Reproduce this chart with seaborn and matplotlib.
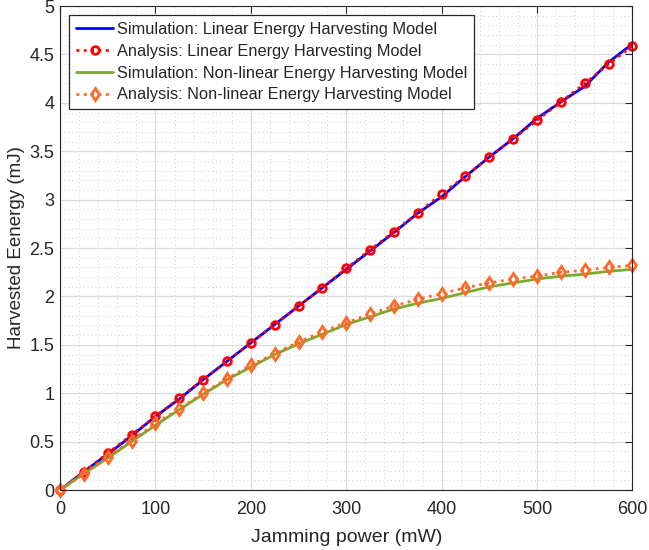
import numpy as np
import pandas as pd
import seaborn as sns
import matplotlib.pyplot as plt
from matplotlib.ticker import MultipleLocator

# jamming power (mW)
power = [0, 25, 50, 75, 100, 125, 150, 175, 200, 225, 250, 275, 300,
         325, 350, 375, 400, 425, 450, 475, 500, 525, 550, 575, 600]

# harvested energy (mJ)
sim_linear = [0, 0.19, 0.37, 0.56, 0.76, 0.94, 1.14, 1.33, 1.52, 1.71, 1.90, 2.09, 2.28,
              2.47, 2.66, 2.86, 3.03, 3.24, 3.44, 3.63, 3.84, 4.01, 4.17, 4.42, 4.61]
ana_linear = [0, 0.19, 0.38, 0.57, 0.76, 0.95, 1.14, 1.33, 1.52, 1.71, 1.90, 2.09, 2.29,
              2.48, 2.67, 2.86, 3.06, 3.24, 3.44, 3.63, 3.82, 4.01, 4.20, 4.40, 4.59]
sim_nonlinear = [0, 0.17, 0.33, 0.50, 0.67, 0.83, 0.99, 1.14, 1.27, 1.40, 1.51, 1.61, 1.71,
                 1.79, 1.87, 1.93, 1.98, 2.04, 2.10, 2.14, 2.18, 2.21, 2.23, 2.26, 2.28]
ana_nonlinear = [0, 0.17, 0.34, 0.51, 0.69, 0.84, 1.00, 1.15, 1.29, 1.41, 1.53, 1.635, 1.73,
                 1.82, 1.90, 1.97, 2.03, 2.09, 2.14, 2.18, 2.21, 2.25, 2.27, 2.30, 2.32]

labels = ['Simulation: Linear Energy Harvesting Model',
          'Analysis: Linear Energy Harvesting Model',
          'Simulation: Non-linear Energy Harvesting Model',
          'Analysis: Non-linear Energy Harvesting Model']

sns.set_style("white")
plt.rcParams['font.family'] = ['Liberation Sans', 'DejaVu Sans']

fig = plt.figure(figsize=(6.49, 5.5), dpi=100)
ax = fig.add_axes([0.0925, 0.109, 0.882, 0.880])

sns.lineplot(x=power, y=sim_linear, ax=ax, color=(0, 0, 1), lw=2, label=labels[0])
sns.lineplot(x=power, y=ana_linear, ax=ax, color=(1, 0, 0), lw=2, linestyle=':',
             marker='o', markersize=5.5, markerfacecolor='none', markeredgecolor=(1, 0, 0),
             markeredgewidth=2, label=labels[1], clip_on=False)
sns.lineplot(x=power, y=sim_nonlinear, ax=ax, color=(0.47, 0.67, 0.19), lw=2, label=labels[2])
sns.lineplot(x=power, y=ana_nonlinear, ax=ax, color=(1, 0.41, 0.16), lw=2, linestyle=':',
             marker='d', markersize=6.5, markerfacecolor='none', markeredgecolor=(1, 0.41, 0.16),
             markeredgewidth=2, label=labels[3], clip_on=False)

ax.set_xlim(0, 600)
ax.set_ylim(0, 5)
ax.xaxis.set_major_locator(MultipleLocator(100))
ax.xaxis.set_minor_locator(MultipleLocator(20))
ax.yaxis.set_major_locator(MultipleLocator(0.5))
ax.yaxis.set_minor_locator(MultipleLocator(0.1))
ax.set_yticks(np.arange(0, 5.01, 0.5))
ax.set_yticklabels(['0', '0.5', '1', '1.5', '2', '2.5', '3', '3.5', '4', '4.5', '5'])

ax.grid(which='major', color='#dcdcdc', lw=0.9, ls='-')
ax.grid(which='minor', color='#d0d0d0', lw=0.7, ls=(0, (1, 3)))
ax.set_axisbelow(True)
ax.tick_params(which='both', direction='in', top=True, right=True, colors='#262626',
               labelsize=13, labelcolor='#262626')
ax.tick_params(which='major', length=5, width=0.8)
ax.tick_params(which='minor', length=0)
ax.tick_params(axis='x', pad=8)
ax.tick_params(axis='y', pad=4)
for s in ax.spines.values():
    s.set_color('#262626')
    s.set_linewidth(0.8)

ax.set_xlabel('Jamming power (mW)', fontsize=14, color='#262626', labelpad=8)
ax.set_ylabel('Harvested Eenergy (mJ)', fontsize=13.5, color='#262626', labelpad=3)

leg = ax.legend(loc='upper left', bbox_to_anchor=(0.016, 0.981), fontsize=11.8,
                frameon=True, fancybox=False, edgecolor='#262626', framealpha=1,
                handlelength=2.3, handletextpad=0.2, borderpad=0.4, labelspacing=0.42,
                borderaxespad=0)
leg.get_frame().set_linewidth(0.9)

fig.savefig('out.png', dpi=100)
